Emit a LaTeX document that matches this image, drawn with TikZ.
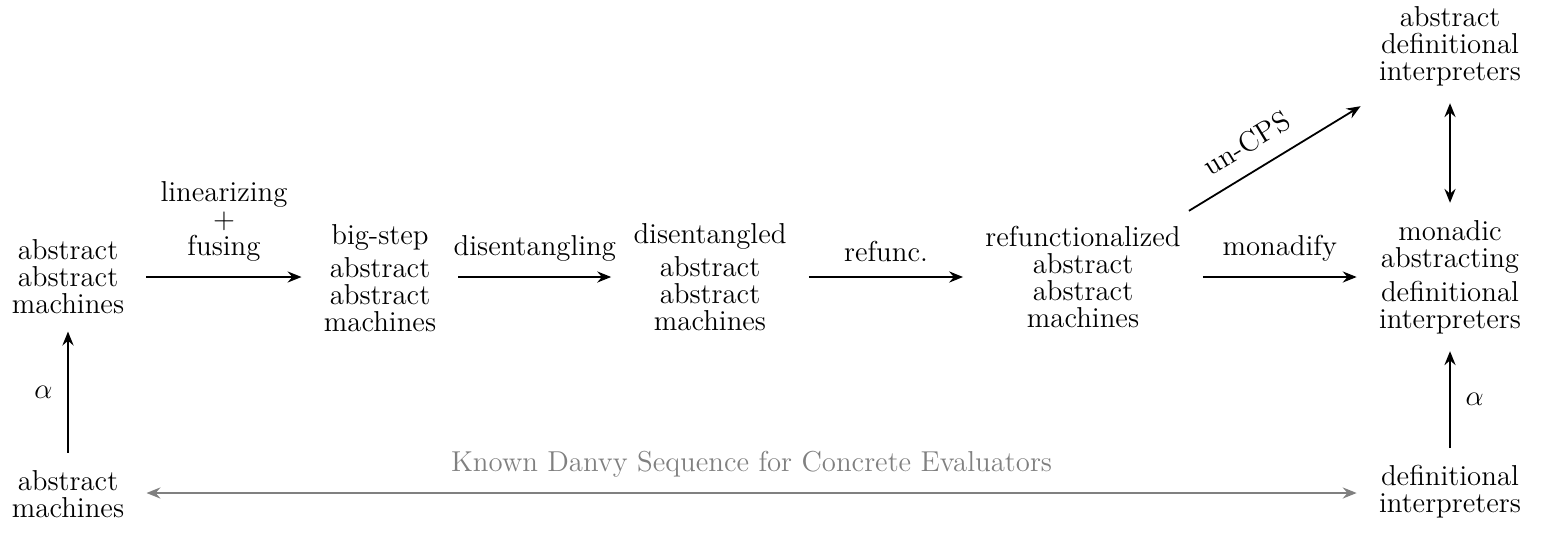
\documentclass[tikz,border=0pt]{standalone}
\usetikzlibrary{arrows.meta}
\begin{document}
\begin{tikzpicture}[x=0.5pt,y=-0.5pt,
  every node/.style={font=\fontsize{14.4}{13.5}\selectfont},
  stage/.style={align=center, inner xsep=11pt, inner ysep=8.5pt},
  lbl/.style={midway, above=4pt, align=center},
  tip/.tip={Stealth[length=7pt,width=5.6pt,inset=2.4pt]},
  arr/.style={-tip, line width=0.9pt},
  darr/.style={tip-tip, line width=0.9pt}]
\useasboundingbox (0,0) rectangle (1545,536);

\coordinate (row) at (0,277);
\coordinate (row2) at (0,493);

\node[stage] (aam) at (68,277) {abstract\\abstract\\machines};
\node[stage] (am)  at (68,494) {abstract\\machines};
\node[stage] (bs)  at (380,278) {big-step\\[3pt]abstract\\abstract\\machines};
\node[stage] (dis) at (710,277) {disentangled\\[3pt]abstract\\abstract\\machines};
\node[stage] (ref) at (1083,277) {refunctionalized\\abstract\\abstract\\machines};
\node[stage] (mad) at (1450,277) {monadic\\abstracting\\[3.5pt]definitional\\interpreters};
\node[stage] (adi) at (1450,46) {abstract\\definitional\\interpreters};
\node[stage] (di)  at (1450,492) {definitional\\interpreters};

\draw[arr] (aam.east |- row) -- node[lbl] {linearizing\\+\\fusing} (bs.west |- row);
\draw[arr] (bs.east |- row) -- node[lbl] {disentangling} (dis.west |- row);
\draw[arr] (dis.east |- row) -- node[lbl] {refunc.} (ref.west |- row);
\draw[arr] (ref.east |- row) -- node[lbl] {monadify} (mad.west |- row);

\draw[arr] (am.north) -- node[left=4pt] {$\alpha$} (aam.south);
\draw[arr] (di.north) -- node[right=4pt] {$\alpha$} (mad.south);
\draw[darr] (adi.south) -- (mad.north);
\draw[arr] ([xshift=-7pt,yshift=-1pt]ref.north east) -- node[pos=0.42, above=5pt, sloped] {un-CPS} ([xshift=2pt,yshift=-1.5pt]adi.south west);

\draw[darr, gray] (am.east |- row2) -- node[lbl, text=gray] {Known Danvy Sequence for Concrete Evaluators} (di.west |- row2);
\end{tikzpicture}
\end{document}
